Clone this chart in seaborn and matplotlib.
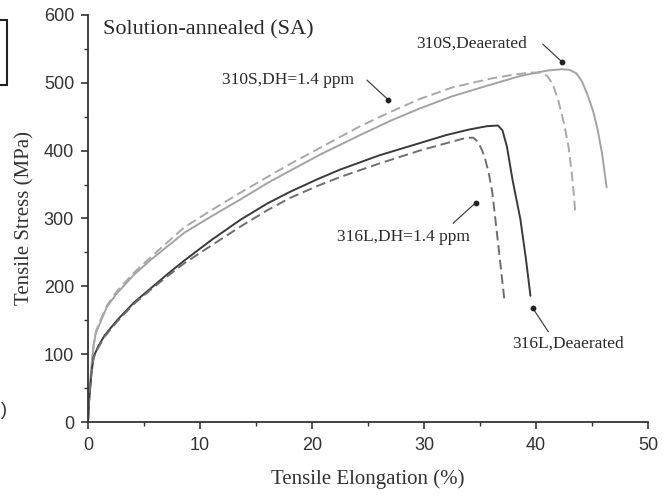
import matplotlib
matplotlib.use("Agg")
import matplotlib.pyplot as plt
import matplotlib.patches as mpatches
import numpy as np
import pandas as pd
import seaborn as sns

# Engineering stress-strain curves, solution-annealed condition
elong_310s_dea = [0, 0.1, 0.3, 0.5, 0.7, 1.0, 1.7, 2.6, 4.1, 5.6, 7.1, 8.6, 11.0, 13.6,
                  16.0, 18.0, 20.7, 24.3, 27.0, 29.6, 32.5, 35.9, 38.6, 41.0, 42.3,
                  43.0, 43.6, 44.1, 44.6, 45.1, 45.5, 45.9, 46.3]
stress_310s_dea = [0, 32, 81, 112, 131, 143, 170, 190, 217, 239, 259, 279, 303, 328,
                   352, 370, 394, 423, 444, 462, 480, 497, 510, 518, 520,
                   519, 514, 502, 482, 458, 431, 395, 346]

elong_310s_dh = [0, 0.1, 0.3, 0.5, 0.7, 1.0, 1.7, 2.6, 4.1, 5.6, 7.1, 8.6, 11.0, 13.6,
                 16.0, 18.0, 20.7, 24.3, 27.0, 29.6, 32.5, 35.9, 38.0, 39.5, 40.3,
                 41.0, 41.5, 42.0, 42.5, 42.9, 43.2, 43.4, 43.5]
stress_310s_dh = [0, 32, 81, 113, 133, 146, 172, 193, 220, 243, 265, 287, 312, 338,
                  361, 380, 404, 436, 457, 476, 493, 506, 512, 515, 515,
                  510, 498, 473, 440, 406, 365, 330, 308]

elong_316l_dea = [0, 0.1, 0.3, 0.5, 0.9, 1.5, 2.6, 4.1, 5.6, 7.1, 8.6, 11.0, 13.6,
                  16.0, 18.0, 20.5, 22.5, 26.0, 29.6, 32.0, 34.0, 35.6, 36.6,
                  37.0, 37.4, 37.9, 38.6, 39.1, 39.5]
stress_316l_dea = [0, 32, 70, 96, 111, 128, 150, 176, 197, 218, 238, 268, 298,
                   322, 339, 358, 372, 393, 411, 423, 431, 436, 437,
                   430, 406, 357, 299, 240, 186]

elong_316l_dh = [0, 0.1, 0.3, 0.5, 0.9, 1.5, 2.6, 4.1, 5.6, 7.1, 8.6, 11.0, 13.6,
                 16.0, 18.0, 20.5, 22.5, 26.0, 29.6, 32.0, 33.8, 34.4, 34.8,
                 35.2, 35.5, 35.8, 36.1, 36.6, 37.2]
stress_316l_dh = [0, 32, 70, 95, 109, 126, 148, 174, 195, 215, 234, 260, 288,
                  312, 330, 348, 361, 381, 400, 411, 419, 419, 413,
                  400, 385, 365, 338, 265, 176]

# Curve labels, label anchor (x, y), leader start and leader end (dot)
labels = ["310S,Deaerated", "310S,DH=1.4 ppm", "316L,DH=1.4 ppm", "316L,Deaerated"]
label_x = [29.3, 12.0, 22.2, 37.9]
label_y = [557, 504, 273, 116]
lead_x0 = [40.6, 24.9, 32.6, 41.1]
lead_y0 = [557, 504, 293, 133]
dot_x = [42.3, 26.8, 34.6, 39.7]
dot_y = [531, 475, 323, 168]

x_ticks = [0, 10, 20, 30, 40, 50]
y_ticks = [0, 100, 200, 300, 400, 500, 600]

frames = []
for name, xs, ys in [("310S,Deaerated", elong_310s_dea, stress_310s_dea),
                     ("310S,DH=1.4 ppm", elong_310s_dh, stress_310s_dh),
                     ("316L,Deaerated", elong_316l_dea, stress_316l_dea),
                     ("316L,DH=1.4 ppm", elong_316l_dh, stress_316l_dh)]:
    frames.append(pd.DataFrame({"elong": xs, "stress": ys, "curve": name,
                                "env": "DH" if "DH" in name else "Deaerated"}))
df = pd.concat(frames, ignore_index=True)

sns.set_style("ticks")
plt.rcParams["font.family"] = ["Liberation Sans", "DejaVu Sans"]

fig = plt.figure(figsize=(6.64, 4.98), dpi=100)
ax = fig.add_axes([0.1325, 0.1526, 0.8435, 0.8174])

palette = {"310S,Deaerated": "#a3a3a3", "310S,DH=1.4 ppm": "#a8a8a8",
           "316L,Deaerated": "#3a3a3a", "316L,DH=1.4 ppm": "#6e6e6e"}
sns.lineplot(data=df, x="elong", y="stress", hue="curve", style="env",
             palette=palette, dashes={"Deaerated": "", "DH": (5, 2.5)},
             estimator=None, sort=False, linewidth=1.4, legend=False, ax=ax)
for ln in ax.get_lines():
    ln.set_solid_joinstyle("round")
    ln.set_dash_joinstyle("round")

ax.set_xlim(0, 50)
ax.set_ylim(0, 600)
ax.set_xticks(x_ticks)
ax.set_yticks(y_ticks)
ax.set_xticks(np.arange(5, 50, 10), minor=True)
ax.set_yticks(np.arange(50, 600, 100), minor=True)
ax.tick_params(axis="both", which="major", length=5, width=1.2, colors="#333333",
               labelsize=13, labelcolor="#333333", direction="out")
ax.tick_params(axis="x", which="major", pad=6)
ax.tick_params(axis="y", which="major", pad=5)
ax.tick_params(axis="both", which="minor", length=3, width=1.0, colors="#333333",
               direction="out")
for s in ["top", "right"]:
    ax.spines[s].set_visible(False)
for s in ["left", "bottom"]:
    ax.spines[s].set_linewidth(1.3)
    ax.spines[s].set_color("#333333")

serif = ["Liberation Serif", "DejaVu Serif"]
ax.set_xlabel("Tensile Elongation (%)", family=serif, fontsize=15, color="#333333",
              labelpad=11)
ax.set_ylabel("Tensile Stress (MPa)", family=serif, fontsize=15, color="#333333",
              labelpad=7)

ax.text(1.3, 578, "Solution-annealed (SA)", family=serif, fontsize=16,
        color="#2a2a2a", ha="left", va="center")

for lab, lx, ly, x0, y0, dx, dy in zip(labels, label_x, label_y, lead_x0, lead_y0,
                                         dot_x, dot_y):
    ax.text(lx, ly, lab, family=serif, fontsize=12.5, color="#2a2a2a",
            ha="left", va="center")
    ax.annotate("", xy=(dx, dy), xytext=(x0, y0),
                arrowprops=dict(arrowstyle="-", color="#444444", lw=0.9,
                                shrinkA=0, shrinkB=0))
ax.scatter(dot_x, dot_y, s=10, color="#222222", zorder=5)

# Edge of a neighbouring panel frame
fig.patches.append(mpatches.Rectangle((-0.02, 1 - 85 / 498), 0.031, 65 / 498,
                                      transform=fig.transFigure, fill=False,
                                      edgecolor="#222222", lw=1.5))
fig.text(0.001, 1 - 410 / 498, ")", fontsize=13, color="#333333", va="center")

fig.savefig("out.png", dpi=100, facecolor="white")
